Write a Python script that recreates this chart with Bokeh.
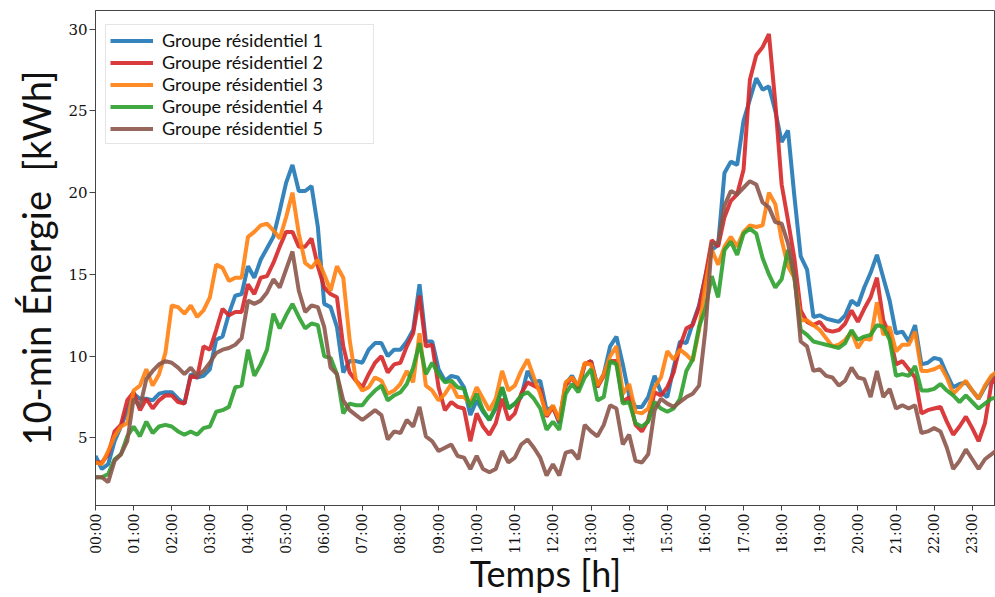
from math import pi
from bokeh.plotting import figure
from bokeh.models import Range1d, FixedTicker, Title
from bokeh.embed import file_html
from bokeh.resources import INLINE

# 10-minute timestamps over one day
minutes = list(range(0, 24 * 60, 10))
hours = [m / 60 for m in minutes]

tick_hours = list(range(24))
tick_labels = [f"{h:02d}:00" for h in tick_hours]
y_ticks = [5, 10, 15, 20, 25, 30]

series_names = ["Groupe résidentiel 1", "Groupe résidentiel 2", "Groupe résidentiel 3",
                "Groupe résidentiel 4", "Groupe résidentiel 5"]

groupe_1 = [3.9, 3.1, 3.4, 4.8, 5.7, 6.7, 7.7, 7.4, 7.4, 7.3, 7.7, 7.8, 7.8, 7.4, 7.1, 8.9, 8.7, 8.8, 9.2, 11.0, 11.2, 12.6, 13.7, 13.8,
            15.5, 14.8, 15.9, 16.6, 17.3, 18.9, 20.6, 21.7, 20.1, 20.1, 20.4, 17.9, 13.2, 13.0, 11.8, 9.0, 9.7, 9.7, 9.6, 10.4, 10.8, 10.8, 10.0, 10.4,
            10.4, 10.9, 11.6, 14.4, 10.9, 10.9, 9.2, 8.5, 8.8, 8.7, 8.1, 6.4, 7.3, 6.6, 6.1, 6.8, 8.1, 6.8, 7.1, 7.5, 9.1, 8.4, 8.5, 6.7,
            6.9, 5.9, 8.3, 8.8, 8.1, 9.5, 9.7, 8.2, 8.9, 10.6, 11.2, 9.5, 7.6, 6.9, 6.9, 7.5, 8.8, 7.8, 7.5, 9.3, 10.9, 10.8, 12.0, 13.1,
            14.9, 16.5, 16.8, 21.2, 21.9, 21.7, 24.4, 25.7, 27.0, 26.3, 26.5, 25.0, 23.1, 23.8, 19.8, 16.1, 15.3, 12.4, 12.5, 12.3, 12.2, 12.1, 12.5, 13.4,
            13.1, 14.2, 15.1, 16.2, 14.8, 13.4, 11.4, 11.5, 10.9, 11.9, 9.5, 9.6, 9.9, 9.8, 8.9, 8.1, 8.3, 8.4, 7.9, 7.4, 8.1, 8.7, 9.0, 9.3]

groupe_2 = [3.5, 3.5, 4.0, 5.4, 5.8, 7.3, 7.8, 6.7, 7.4, 6.8, 7.3, 7.6, 7.6, 7.2, 7.1, 8.8, 8.7, 10.6, 10.4, 11.6, 12.9, 12.5, 12.7, 12.7,
            14.4, 13.8, 14.8, 14.9, 15.7, 16.7, 17.6, 17.6, 16.7, 16.7, 17.2, 15.5, 14.2, 13.8, 13.6, 10.6, 9.0, 8.5, 8.1, 8.9, 9.6, 10.0, 9.0, 9.5,
            9.6, 10.6, 11.4, 13.7, 10.6, 10.7, 8.1, 6.7, 7.2, 6.9, 6.8, 4.8, 6.5, 5.7, 5.2, 5.9, 7.4, 6.1, 6.5, 7.7, 8.4, 8.2, 8.0, 6.3,
            6.9, 6.0, 8.2, 8.7, 8.0, 9.5, 9.7, 8.1, 8.8, 9.7, 9.7, 7.2, 7.5, 5.8, 5.4, 6.1, 7.8, 7.6, 8.1, 9.0, 10.6, 11.7, 11.9, 13.0,
            14.9, 17.1, 16.7, 18.5, 19.5, 19.9, 21.4, 26.9, 28.4, 28.9, 29.7, 25.5, 20.5, 18.3, 16.0, 12.8, 12.1, 11.9, 12.1, 11.6, 11.5, 11.6, 12.0, 12.8,
            12.1, 12.9, 13.6, 14.8, 12.2, 11.3, 9.5, 9.7, 9.2, 8.7, 6.5, 6.7, 6.8, 6.9, 6.0, 5.2, 5.7, 6.3, 5.6, 4.8, 5.9, 8.3, 8.9, 9.1]

groupe_3 = [3.5, 3.4, 4.2, 5.1, 5.7, 5.9, 7.9, 8.2, 9.2, 8.2, 8.9, 10.2, 13.1, 13.0, 12.6, 13.1, 12.4, 12.8, 13.6, 15.6, 15.4, 14.6, 14.8, 14.8,
            17.3, 17.6, 18.0, 18.1, 17.7, 17.2, 18.5, 20.0, 17.5, 15.7, 15.4, 15.9, 15.0, 14.0, 15.5, 14.8, 11.0, 8.5, 7.9, 8.1, 8.7, 8.5, 7.7, 7.9,
            8.3, 9.1, 8.4, 11.4, 8.2, 7.9, 7.3, 7.7, 8.3, 7.5, 7.5, 7.1, 8.1, 7.4, 6.7, 7.4, 9.1, 7.9, 8.2, 9.1, 9.8, 8.7, 7.7, 6.4,
            7.0, 6.1, 8.4, 8.7, 8.2, 9.6, 9.5, 8.2, 8.9, 10.0, 10.6, 7.7, 8.3, 6.6, 6.5, 6.8, 8.1, 8.7, 10.3, 9.8, 10.4, 10.1, 9.7, 11.6,
            14.4, 16.5, 15.6, 16.7, 17.3, 16.7, 17.6, 18.0, 17.9, 18.0, 20.0, 19.3, 17.1, 15.5, 14.8, 12.2, 12.2, 11.9, 11.6, 11.1, 10.6, 10.7, 11.0, 11.5,
            10.5, 11.1, 11.0, 13.3, 11.3, 11.8, 10.3, 10.7, 10.7, 11.5, 9.1, 9.1, 9.2, 9.4, 8.7, 7.7, 8.1, 8.5, 7.9, 7.4, 8.2, 8.8, 9.1, 9.4]

groupe_4 = [2.6, 2.6, 2.8, 3.7, 4.0, 5.1, 5.7, 5.1, 6.0, 5.3, 5.7, 5.8, 5.7, 5.4, 5.2, 5.4, 5.2, 5.6, 5.7, 6.6, 6.7, 6.9, 8.1, 8.2,
            10.4, 8.8, 9.5, 10.4, 12.6, 11.7, 12.5, 13.2, 12.4, 11.7, 12.0, 11.9, 10.0, 9.9, 8.9, 6.5, 7.1, 7.0, 7.0, 7.5, 7.9, 8.2, 7.3, 7.6,
            7.8, 8.3, 9.3, 10.8, 8.9, 9.6, 8.9, 8.4, 8.5, 8.1, 8.0, 6.9, 7.7, 6.7, 6.1, 6.9, 8.1, 6.8, 7.1, 7.6, 7.8, 7.4, 6.8, 5.5,
            6.0, 5.5, 7.7, 8.3, 7.8, 8.7, 9.2, 7.3, 7.5, 9.7, 9.5, 7.1, 7.2, 5.9, 5.7, 6.0, 7.2, 6.8, 6.6, 6.8, 7.4, 9.1, 9.8, 11.8,
            12.9, 14.9, 13.6, 16.5, 17.0, 16.2, 17.5, 17.8, 17.5, 16.0, 15.0, 14.2, 14.7, 16.5, 14.8, 11.6, 11.3, 10.9, 10.8, 10.7, 10.6, 10.5, 10.8, 11.6,
            11.0, 11.2, 11.3, 11.9, 11.8, 11.0, 8.8, 8.9, 8.8, 9.4, 7.9, 7.9, 8.0, 8.3, 7.9, 7.6, 7.2, 7.6, 7.2, 6.8, 7.1, 7.4, 7.5, 7.6]

groupe_5 = [2.6, 2.6, 2.3, 3.6, 4.0, 4.8, 7.4, 6.9, 8.6, 9.1, 9.5, 9.7, 9.6, 9.3, 8.9, 9.3, 8.8, 9.1, 9.6, 10.2, 10.4, 10.5, 10.7, 11.1,
            13.4, 13.2, 13.4, 13.9, 14.7, 14.2, 15.3, 16.4, 14.0, 12.7, 13.1, 13.0, 11.8, 9.3, 8.9, 7.3, 6.7, 6.4, 6.1, 6.4, 6.7, 6.4, 4.9, 5.4,
            5.3, 6.1, 5.7, 6.9, 5.1, 4.8, 4.2, 4.4, 4.6, 3.9, 3.8, 3.1, 3.9, 3.1, 2.9, 3.1, 4.2, 3.5, 3.8, 4.6, 4.9, 4.4, 3.8, 2.7,
            3.4, 2.7, 4.1, 4.2, 3.7, 5.8, 5.4, 5.1, 5.8, 7.0, 6.8, 4.6, 5.2, 3.6, 3.5, 4.0, 6.7, 7.4, 7.1, 6.9, 7.2, 7.5, 7.7, 8.2,
            11.6, 16.9, 16.9, 19.2, 20.1, 19.9, 20.3, 20.7, 20.5, 19.4, 19.1, 18.2, 18.1, 16.9, 15.0, 10.9, 10.6, 9.1, 9.2, 8.8, 8.7, 8.2, 8.5, 9.3,
            8.7, 8.6, 7.5, 9.1, 7.5, 8.0, 6.8, 7.0, 6.8, 7.0, 5.3, 5.4, 5.6, 5.4, 4.4, 3.1, 3.6, 4.3, 3.7, 3.1, 3.7, 4.0, 4.3, 4.6]

series_values = [groupe_1, groupe_2, groupe_3, groupe_4, groupe_5]
colors = ["#1f77b4", "#d62728", "#ff7f0e", "#2ca02c", "#8c564b"]

p = figure(width=995, height=597, output_backend="svg", toolbar_location=None,
           x_range=Range1d(0, 23.61), y_range=Range1d(0.87, 31.14),
           min_border_left=95, min_border_right=0, min_border_top=10, min_border_bottom=92)

for name, vals, col in zip(series_names, series_values, colors):
    p.line(hours, vals, line_color=col, line_width=4, line_alpha=0.9, legend_label=name)

p.grid.visible = False
p.outline_line_color = "#444444"
p.background_fill_color = "white"
p.border_fill_color = "white"

ax = p.xaxis[0]
ax.ticker = FixedTicker(ticks=tick_hours)
ax.major_label_overrides = {h: lab for h, lab in zip(tick_hours, tick_labels)}
ax.major_label_orientation = pi / 2
ax.major_label_text_font = "DejaVu Serif"
ax.major_label_text_font_size = "14px"
ax.major_label_text_color = "#111111"
ax.major_label_standoff = 3
ax.major_tick_out = 5
ax.major_tick_in = 0
ax.minor_tick_line_color = None
ax.axis_line_color = "#444444"
ax.major_tick_line_color = "#444444"
ax.axis_label = "Temps [h]"
ax.axis_label_text_font = "Lato"
ax.axis_label_text_font_size = "36px"
ax.axis_label_text_font_style = "normal"
ax.axis_label_text_color = "#111111"
ax.axis_label_standoff = -6

ay = p.yaxis[0]
ay.ticker = FixedTicker(ticks=y_ticks)
ay.major_label_text_font = "DejaVu Serif"
ay.major_label_text_font_size = "15px"
ay.major_label_text_color = "#111111"
ay.major_label_standoff = 2
ay.major_tick_out = 6
ay.major_tick_in = 0
ay.minor_tick_line_color = None
ay.axis_line_color = "#444444"
ay.major_tick_line_color = "#444444"

ylab = Title(text="10-min Énergie \u00a0[kWh]", align="center", offset=-34,
             text_font="Lato", text_font_size="38px", text_font_style="normal",
             text_color="#111111", standoff=14)
p.add_layout(ylab, "left")

lg = p.legend[0]
lg.location = (10, 361)
lg.label_text_font = "Lato"
lg.label_text_font_size = "18px"
lg.label_text_color = "#111111"
lg.glyph_width = 43
lg.glyph_height = 21
lg.label_height = 21
lg.label_width = 207
lg.label_standoff = 9
lg.spacing = 0
lg.padding = 4
lg.margin = 0
lg.border_line_color = "#cccccc"
lg.background_fill_alpha = 0.85

open("out.html", "w").write(file_html(p, INLINE))
